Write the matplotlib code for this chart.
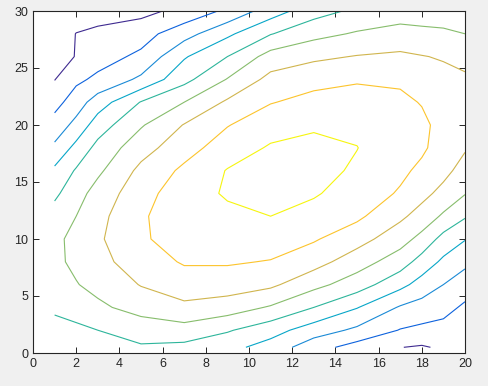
import numpy as np
import matplotlib
matplotlib.use('Agg')
from matplotlib import pyplot as plt

# grid nodes (hand)
x = [1, 2, 3, 5, 7, 9, 11, 13, 15, 17, 18, 19, 20]
y = [0.5, 2, 4, 6, 8, 10, 12, 14, 16, 18, 20, 22, 24, 26, 28, 30]

# one list per x column, values from y=0.5 up to y=30
col_x1 = [4.5, 4.8, 5.1, 5.5, 5.8, 5.8, 5.4, 4.8, 4.2, 3.2, 2.4, 1.65, 0.97, 0.7, 0.5, 0.3]
col_x2 = [4.6, 4.85, 5.3, 5.95, 6.2, 6.25, 6.0, 5.6, 5.1, 4.3, 3.3, 2.5, 1.8, 1.03, 1.02, 0.55]
col_x3 = [4.6, 5.0, 5.8, 6.3, 6.7, 6.85, 6.7, 6.4, 5.8, 5.3, 4.5, 3.5, 2.2, 1.6, 1.15, 0.7]
col_x5 = [4.9, 5.4, 6.4, 7.05, 7.5, 7.85, 7.85, 7.6, 7.25, 6.6, 5.9, 5.05, 3.2, 2.2, 1.6, 0.7]
col_x7 = [4.75, 5.6, 6.8, 7.5, 8.1, 8.5, 8.7, 8.6, 8.2, 7.6, 7.05, 6.0, 4.7, 3.9, 2.6, 1.3]
col_x9 = [4.3, 5.1, 6.5, 7.5, 8.1, 8.5, 8.8, 9.1, 9.05, 8.5, 7.95, 7.15, 6.05, 5.0, 3.8, 2.2]
col_x11 = [3.6, 4.4, 5.9, 7.2, 7.95, 8.5, 9.0, 9.4, 9.45, 9.1, 8.6, 7.95, 7.3, 6.4, 4.95, 3.5]
col_x13 = [2.4, 3.5, 5.0, 6.3, 7.4, 8.1, 8.65, 9.1, 9.35, 9.2, 8.9, 8.3, 7.7, 6.8, 5.7, 4.6]
col_x15 = [1.6, 2.8, 4.05, 5.5, 6.45, 7.4, 8.2, 8.55, 8.85, 9.02, 8.8, 8.4, 7.9, 7.05, 6.1, 5.2]
col_x17 = [1.02, 1.95, 2.9, 4.3, 5.5, 6.4, 7.2, 7.9, 8.2, 8.35, 8.35, 8.2, 7.85, 7.2, 6.3, 5.6]
col_x18 = [0.9, 1.77, 2.6, 3.6, 4.6, 5.7, 6.6, 7.3, 7.8, 8.15, 8.2, 7.95, 7.6, 7.05, 6.15, 5.7]
col_x19 = [1.15, 1.7, 2.3, 3.0, 3.8, 4.65, 5.85, 6.7, 7.3, 7.6, 7.7, 7.6, 7.35, 6.9, 6.1, 5.7]
col_x20 = [1.4, 1.6, 1.85, 2.45, 3.25, 4.05, 5.1, 6.05, 6.6, 7.1, 7.3, 7.3, 7.15, 6.7, 6.0, 5.5]

levels = [1, 2, 3, 4, 5, 6, 7, 8, 9]
level_colors = ['#3e2a90', '#0d62dd', '#1a8ad6', '#07a6c8', '#2db59b',
                '#87bd6c', '#d0b54e', '#fcc42c', '#f6f50e']

xticks = [0, 2, 4, 6, 8, 10, 12, 14, 16, 18, 20]
yticks = [0, 5, 10, 15, 20, 25, 30]


def main():
    Z = np.array([col_x1, col_x2, col_x3, col_x5, col_x7, col_x9, col_x11,
                  col_x13, col_x15, col_x17, col_x18, col_x19, col_x20]).T
    X, Y = np.meshgrid(x, y)

    plt.rcParams['font.family'] = ['Liberation Sans', 'DejaVu Sans']
    fig = plt.figure(figsize=(4.88, 3.86), dpi=100, facecolor='#f0f0f0')
    ax = fig.add_axes([33 / 488, 33 / 386, 432 / 488, 342 / 386])
    ax.contour(X, Y, Z, levels=levels, colors=level_colors, linewidths=0.8)

    ax.set_xlim(0, 20)
    ax.set_ylim(0, 30)
    ax.set_xticks(xticks)
    ax.set_yticks(yticks)
    ax.tick_params(direction='in', length=4, width=0.7, top=True, right=True,
                   labelsize=9, colors='#262626')
    for s in ax.spines.values():
        s.set_linewidth(0.8)
        s.set_color('#262626')

    fig.savefig('out.png', dpi=100, facecolor=fig.get_facecolor())


if __name__ == '__main__':
    main()
